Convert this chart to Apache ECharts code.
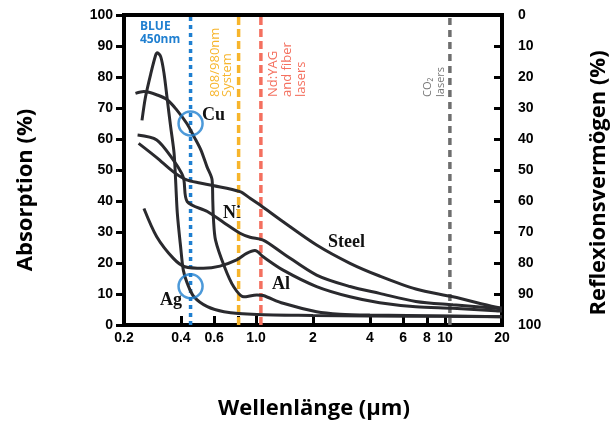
<!DOCTYPE html>
<html>
<head>
<meta charset="utf-8">
<script src="https://cdn.jsdelivr.net/npm/echarts@6/dist/echarts.min.js"></script>
<style>
    html, body { margin: 0; padding: 0; background: #fff; }
    #chart { width: 616px; height: 423px; }
</style>
</head>
<body>
<div id="chart"></div>
<script>
// wavelengths in µm, absorption in %
var cuWl = [0.23, 0.255, 0.30, 0.34, 0.38, 0.43, 0.47, 0.51, 0.55, 0.585, 0.59, 0.595, 0.61, 0.68, 0.76, 0.86, 1.01, 1.09, 1.39, 2.09, 2.78, 4, 10, 20];
var cuAbs = [74.7, 75.3, 74.2, 72.6, 69.4, 65, 60.7, 56.5, 51, 46.8, 40, 34, 27.4, 18.8, 12.4, 9.1, 9.7, 9.5, 7, 4.3, 3.5, 3.2, 2.9, 2.7];

var agWl = [0.249, 0.26, 0.277, 0.294, 0.30, 0.313, 0.326, 0.339, 0.353, 0.368, 0.375, 0.383, 0.399, 0.412, 0.432, 0.469, 0.552, 0.676, 1.01, 2, 4, 10, 20];
var agAbs = [66, 73.6, 81, 87, 87.8, 86.5, 81, 72.6, 64, 55.5, 46.8, 36, 25, 17.7, 13.5, 9.1, 5.9, 4.3, 3.4, 3.1, 2.9, 2.8, 2.7];

var niWl = [0.236, 0.298, 0.365, 0.404, 0.415, 0.432, 0.552, 0.676, 0.822, 0.929, 1.09, 1.39, 2.09, 3.14, 4.5, 7, 11, 18.4, 20];
var niAbs = [61.3, 59.7, 53.2, 48.9, 46.8, 39.8, 36.6, 33, 29.6, 28.3, 27.4, 23.1, 16.1, 12.4, 10.2, 7.6, 6.5, 5.4, 5.2];

var steelWl = [0.239, 0.298, 0.365, 0.429, 0.505, 0.59, 0.822, 0.929, 1.05, 1.39, 2.09, 3.14, 4.5, 7, 11, 18.4, 20];
var steelAbs = [58.6, 54, 49.4, 46.8, 45.8, 45, 43, 40.9, 38.7, 33.3, 25.8, 19.9, 15.8, 11.6, 9.1, 5.8, 5.5];

var alWl = [0.255, 0.298, 0.365, 0.42, 0.526, 0.644, 0.789, 0.891, 0.986, 1.09, 1.39, 2.09, 3.14, 4.5, 7, 11, 18.4, 20];
var alAbs = [37.6, 28.5, 21.5, 18.8, 18.3, 19, 21, 23.1, 24, 22, 17.7, 12.4, 9.1, 7.2, 5.9, 5.4, 4.6, 4.5];

// blue circles marking 450 nm
var circleWl = [0.45, 0.45];
var circleAbs = [65, 12.5];

// laser wavelengths
var laserWl = [0.45, 0.808, 1.06, 10.6];
var laserColors = ['#1f7fd0', '#f7b52c', '#f4705f', '#6e6e6e'];

var xLabels = ['0.2', '0.4', '0.6', '1.0', '2', '4', '6', '8', '10', '20'];
var xTicks = [0.4, 0.6, 0.8, 1.0, 2, 4, 6, 8, 10];

function lg(v) {
    return Math.log10(v);
}

function pairs(wl, vals) {
    var out = [];
    for (var i = 0; i < wl.length; i++) {
        out.push([lg(wl[i]), vals[i]]);
    }
    return out;
}

function curve(name, wl, vals) {
    return {
        name: name,
        type: 'line',
        data: pairs(wl, vals),
        smooth: 0.3,
        symbol: 'none',
        silent: true,
        lineStyle: { color: '#2a2a2e', width: 3 }
    };
}

var series = [];

var dashes = [[4, 4], [8, 4], [8, 4], [7, 5]];
for (var k = 0; k < laserWl.length; k++) {
    series.push({
        type: 'line',
        data: [[lg(laserWl[k]), 0], [lg(laserWl[k]), 100]],
        symbol: 'none',
        silent: true,
        z: 1,
        lineStyle: { color: laserColors[k], width: 3.5, type: dashes[k] }
    });
}

series.push(curve('Cu', cuWl, cuAbs));
series.push(curve('Ag', agWl, agAbs));
series.push(curve('Ni', niWl, niAbs));
series.push(curve('Steel', steelWl, steelAbs));
series.push(curve('Al', alWl, alAbs));

series.push({
    type: 'scatter',
    data: pairs(circleWl, circleAbs),
    symbol: 'circle',
    symbolSize: 24,
    silent: true,
    z: 5,
    itemStyle: { color: 'rgba(0,0,0,0)', borderColor: '#1f7fd0', borderWidth: 2.5 }
});

var tickFont = { color: '#000', fontWeight: 'bold', fontSize: 14, fontFamily: 'Liberation Sans' };
var serifFont = 'bold 18px "Liberation Serif"';
var titleFont = 'bold 22px "Open Sans"';

var option = {
    animation: false,
    grid: {
        left: 124, right: 114, top: 15, bottom: 98,
        show: true, borderColor: '#000', borderWidth: 4
    },
    xAxis: {
        type: 'value',
        min: lg(0.2),
        max: lg(20),
        axisLine: { onZero: false, lineStyle: { color: '#000', width: 4 } },
        axisTick: { inside: true, length: 9, lineStyle: { color: '#000', width: 3 }, customValues: xTicks.map(lg) },
        axisLabel: Object.assign({
            margin: 6,
            customValues: xLabels.map(function (s) { return lg(parseFloat(s)); }),
            formatter: function (v) {
                for (var i = 0; i < xLabels.length; i++) {
                    if (Math.abs(lg(parseFloat(xLabels[i])) - v) < 1e-6) return xLabels[i];
                }
                return '';
            }
        }, tickFont),
        splitLine: { show: false }
    },
    yAxis: [{
        type: 'value',
        min: 0, max: 100, interval: 10,
        axisLine: { show: true, onZero: false, lineStyle: { color: '#000', width: 4 } },
        axisTick: { show: true, length: 8, lineStyle: { color: '#000', width: 3 } },
        axisLabel: Object.assign({ margin: 11 }, tickFont),
        splitLine: { show: false }
    }, {
        type: 'value',
        position: 'right',
        inverse: true,
        min: 0, max: 100, interval: 10,
        axisLine: { show: true, onZero: false, lineStyle: { color: '#000', width: 4 } },
        axisTick: { show: true, inside: true, length: 8, lineStyle: { color: '#000', width: 3 } },
        axisLabel: Object.assign({ margin: 16 }, tickFont),
        splitLine: { show: false }
    }],
    graphic: [
        { type: 'text', x: 26, y: 190, rotation: Math.PI / 2,
          style: { text: 'Absorption (%)', font: titleFont, fill: '#000', align: 'center', verticalAlign: 'middle' } },
        { type: 'text', x: 599, y: 183, rotation: Math.PI / 2,
          style: { text: 'Reflexionsvermögen (%)', font: titleFont, fill: '#000', align: 'center', verticalAlign: 'middle' } },
        { type: 'text', x: 314, y: 409,
          style: { text: 'Wellenlänge (µm)', font: titleFont, fill: '#000', align: 'center', verticalAlign: 'middle' } },

        { type: 'text', x: 140, y: 20,
          style: { text: 'BLUE\n450nm', font: 'bold 12px "Open Sans"', fill: '#1f7fd0', lineHeight: 13 } },
        { type: 'text', x: 209, y: 97, rotation: Math.PI / 2,
          style: { text: '808/980nm\nSystem', font: '13px "Open Sans"', fill: '#f7b52c', lineHeight: 12, align: 'left', verticalAlign: 'top' } },
        { type: 'text', x: 266, y: 97, rotation: Math.PI / 2,
          style: { text: 'Nd:YAG\nand fiber\nlasers', font: '13px "Open Sans"', fill: '#f4705f', lineHeight: 14, align: 'left', verticalAlign: 'top' } },
        { type: 'text', x: 421, y: 97, rotation: Math.PI / 2,
          style: { text: 'CO₂\nlasers', font: '11px "Open Sans"', fill: '#777', lineHeight: 13, align: 'left', verticalAlign: 'top' } },

        { type: 'text', x: 202, y: 115, style: { text: 'Cu', font: serifFont, fill: '#111', verticalAlign: 'middle' } },
        { type: 'text', x: 223, y: 213, style: { text: 'Ni', font: serifFont, fill: '#111', verticalAlign: 'middle' } },
        { type: 'text', x: 328, y: 242, style: { text: 'Steel', font: serifFont, fill: '#111', verticalAlign: 'middle' } },
        { type: 'text', x: 272, y: 284, style: { text: 'Al', font: serifFont, fill: '#111', verticalAlign: 'middle' } },
        { type: 'text', x: 160, y: 300, style: { text: 'Ag', font: serifFont, fill: '#111', verticalAlign: 'middle' } }
    ],
    series: series
};

var myChart = echarts.init(document.getElementById('chart'));
myChart.setOption(option);
</script>
</body>
</html>
